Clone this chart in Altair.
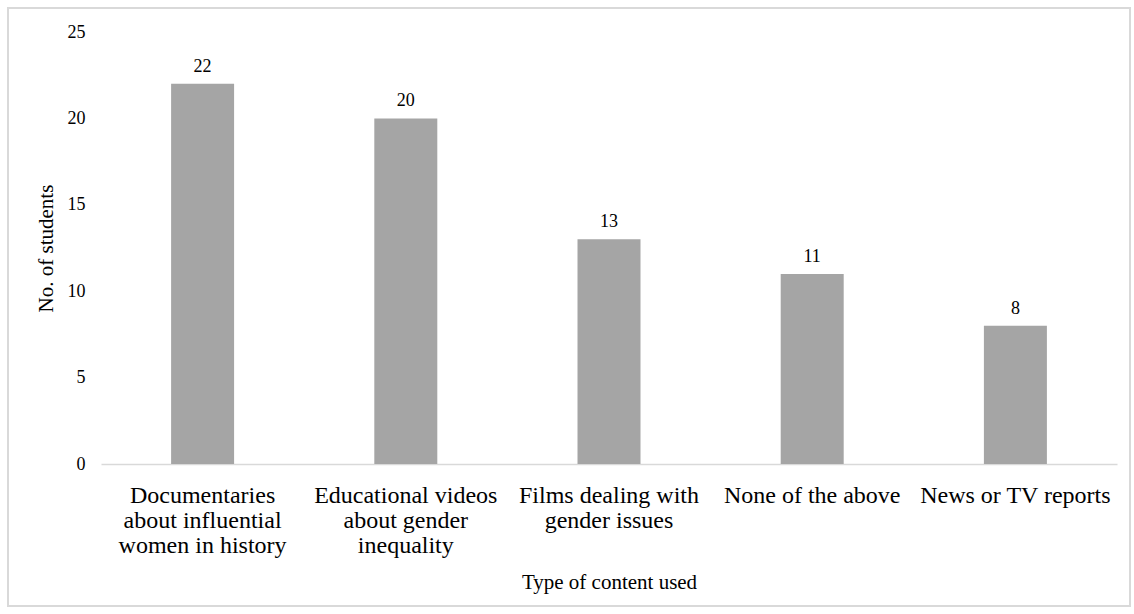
import altair as alt
import pandas as pd

categories = [
    "Documentaries\nabout influential\nwomen in history",
    "Educational videos\nabout gender\ninequality",
    "Films dealing with\ngender issues",
    "None of the above",
    "News or TV reports",
]
values = [22, 20, 13, 11, 8]

df = pd.DataFrame({"cat": categories, "n": values})

FONT = "Liberation Serif"
W, H = 1016, 432

x = alt.X(
    "cat:N",
    sort=categories,
    scale=alt.Scale(paddingInner=0.69, paddingOuter=0.345),
    axis=alt.Axis(
        title="Type of content used",
        labelExpr="split(datum.label, '\\n')",
        labelAngle=0,
        labelFontSize=24,
        labelLineHeight=25,
        labelLimit=400,
        labelOverlap=False,
        labelPadding=19,
        labelColor="#000000",
        labelFont=FONT,
        ticks=False,
        domainColor="#d9d9d9",
        domainWidth=1.5,
        titleFont=FONT,
        titleFontSize=21,
        titleFontWeight="normal",
        titleColor="#000000",
        titlePadding=14,
    ),
)
y = alt.Y(
    "n:Q",
    scale=alt.Scale(domain=[0, 25], nice=False),
    axis=alt.Axis(
        title="No. of students",
        values=[0, 5, 10, 15, 20, 25],
        ticks=False,
        domain=False,
        grid=False,
        labelFontSize=18,
        labelFont=FONT,
        labelColor="#000000",
        labelPadding=16,
        titleFont=FONT,
        titleFontSize=21,
        titleFontWeight="normal",
        titleColor="#000000",
        titlePadding=11,
    ),
)

bars = alt.Chart(df).mark_bar(color="#a5a5a5").encode(x=x, y=y)
labels = alt.Chart(df).mark_text(
    baseline="alphabetic", dy=-12, fontSize=18, font=FONT, color="#000000"
).encode(x=alt.X("cat:N", sort=categories), y="n:Q", text="n:Q")

frame = alt.Chart(df).mark_rect(
    fill=None, stroke="#d9d9d9", strokeWidth=1.5, fillOpacity=0
).encode(
    x=alt.value(-93), x2=alt.value(1029), y=alt.value(-24), y2=alt.value(574)
)

chart = (
    alt.layer(frame, bars, labels)
    .properties(
        width=W,
        height=H,
        autosize=alt.AutoSizeParams(type="none"),
        padding={"left": 101, "top": 32, "right": 17, "bottom": 150},
        background="#ffffff",
    )
    .configure_view(stroke=None)
)

chart.save("out.html", embed_options={"renderer": "svg", "actions": False})
